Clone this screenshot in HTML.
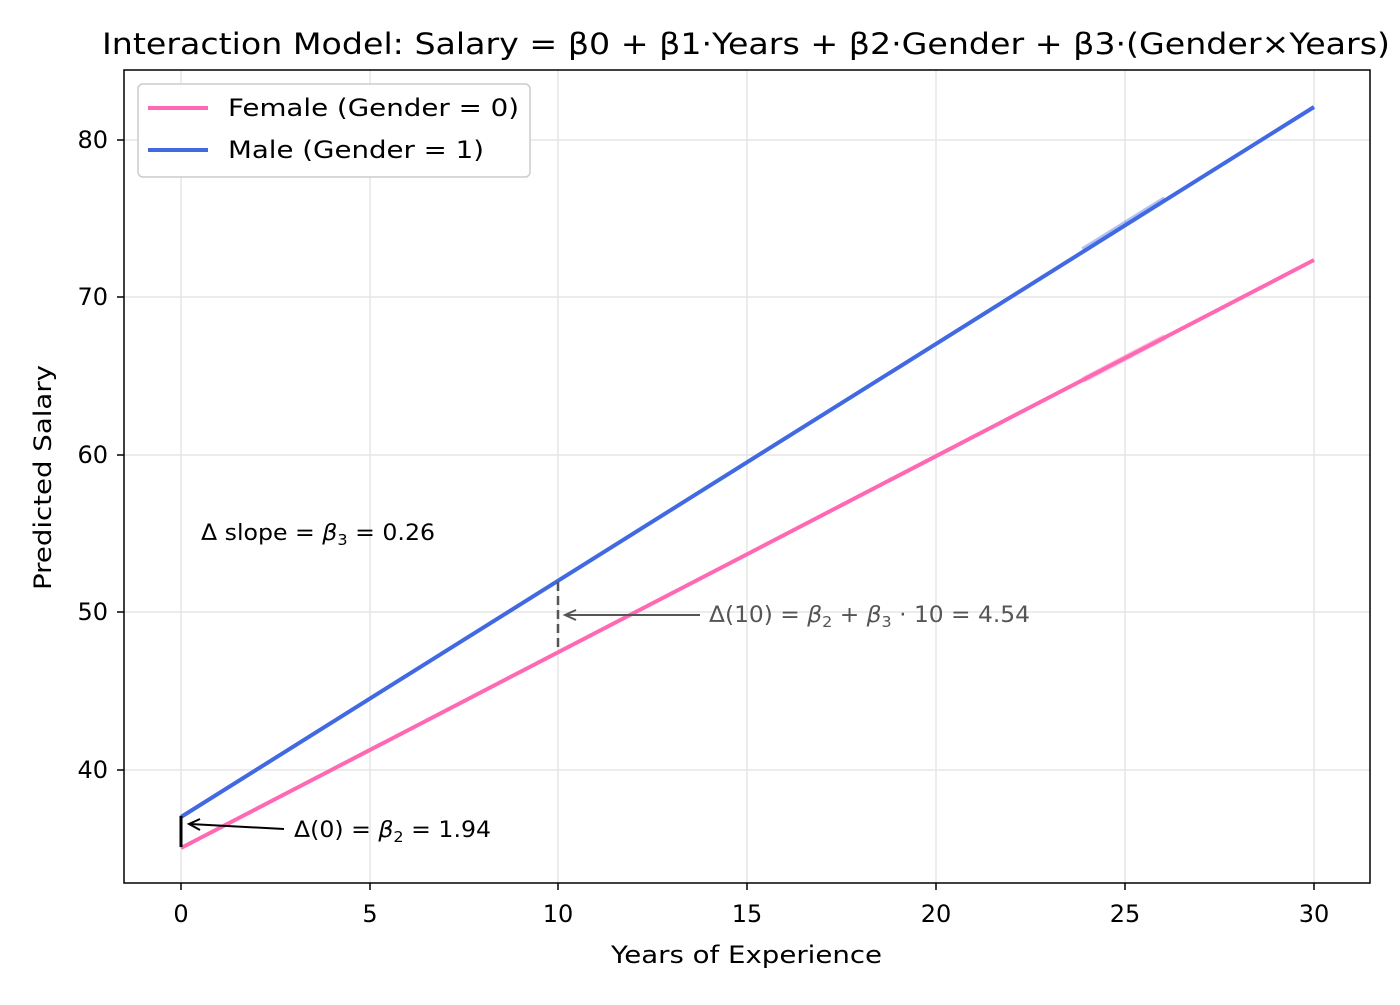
<!DOCTYPE html>
<html><head><style>body{margin:0;background:#fff}</style></head><body>
<svg width="1400" height="1000" xmlns="http://www.w3.org/2000/svg" font-family="DejaVu Sans, Liberation Sans, sans-serif">
<rect width="1400" height="1000" fill="#fff"/>
<g stroke="#e6e6e6" stroke-width="1.5">
<line x1="181" y1="70" x2="181" y2="883"/><line x1="370" y1="70" x2="370" y2="883"/><line x1="558" y1="70" x2="558" y2="883"/><line x1="747" y1="70" x2="747" y2="883"/><line x1="936" y1="70" x2="936" y2="883"/><line x1="1125" y1="70" x2="1125" y2="883"/><line x1="1314" y1="70" x2="1314" y2="883"/>
<line x1="124" y1="140" x2="1370" y2="140"/><line x1="124" y1="297" x2="1370" y2="297"/><line x1="124" y1="455" x2="1370" y2="455"/><line x1="124" y1="612" x2="1370" y2="612"/><line x1="124" y1="770" x2="1370" y2="770"/>
</g>
<line x1="181" y1="848" x2="1314" y2="260" stroke="#ff69b4" stroke-width="4"/>
<line x1="181" y1="817" x2="1314" y2="107" stroke="#4169e1" stroke-width="4"/>
<line x1="1083" y1="380" x2="1165" y2="337" stroke="#ff69b4" stroke-width="6" opacity="0.4"/>
<line x1="1083" y1="250" x2="1165" y2="199" stroke="#4169e1" stroke-width="6" opacity="0.4"/>
<line x1="181" y1="816" x2="181" y2="847" stroke="#000" stroke-width="3"/>
<line x1="284" y1="829" x2="190" y2="824" stroke="#000" stroke-width="2"/>
<path d="M200,819 L189,824 L200,830" fill="none" stroke="#000" stroke-width="2"/>
<text x="294" y="837" font-size="22" textLength="197" lengthAdjust="spacingAndGlyphs">Δ(0) = <tspan font-style="italic">β</tspan><tspan font-size="15" dy="5">2</tspan><tspan dy="-5"> = 1.94</tspan></text>
<line x1="558" y1="582" x2="558" y2="652" stroke="#555" stroke-width="2.5" stroke-dasharray="9,5"/>
<line x1="700" y1="615" x2="566" y2="615" stroke="#555" stroke-width="2"/>
<path d="M576,610 L565,615 L576,620" fill="none" stroke="#555" stroke-width="2"/>
<text x="709" y="622" font-size="22" fill="#555" textLength="321" lengthAdjust="spacingAndGlyphs">Δ(10) = <tspan font-style="italic">β</tspan><tspan font-size="15" dy="5">2</tspan><tspan dy="-5"> + </tspan><tspan font-style="italic">β</tspan><tspan font-size="15" dy="5">3</tspan><tspan dy="-5"> · 10 = 4.54</tspan></text>
<text x="201" y="540" font-size="22" textLength="234" lengthAdjust="spacingAndGlyphs">Δ slope = <tspan font-style="italic">β</tspan><tspan font-size="15" dy="5">3</tspan><tspan dy="-5"> = 0.26</tspan></text>
<rect x="124" y="70" width="1246" height="813" fill="none" stroke="#000" stroke-width="1.5"/>
<g stroke="#000" stroke-width="1.5">
<line x1="181" y1="883" x2="181" y2="890"/><line x1="370" y1="883" x2="370" y2="890"/><line x1="558" y1="883" x2="558" y2="890"/><line x1="747" y1="883" x2="747" y2="890"/><line x1="936" y1="883" x2="936" y2="890"/><line x1="1125" y1="883" x2="1125" y2="890"/><line x1="1314" y1="883" x2="1314" y2="890"/>
<line x1="117" y1="140" x2="124" y2="140"/><line x1="117" y1="297" x2="124" y2="297"/><line x1="117" y1="455" x2="124" y2="455"/><line x1="117" y1="612" x2="124" y2="612"/><line x1="117" y1="770" x2="124" y2="770"/>
</g>
<g font-size="24" text-anchor="middle">
<text x="181" y="922">0</text><text x="370" y="922">5</text><text x="558" y="922">10</text><text x="747" y="922">15</text><text x="936" y="922">20</text><text x="1125" y="922">25</text><text x="1314" y="922">30</text>
</g>
<g font-size="24" text-anchor="end">
<text x="108" y="148">80</text><text x="108" y="305">70</text><text x="108" y="463">60</text><text x="108" y="620">50</text><text x="108" y="778">40</text>
</g>
<text x="611" y="963" font-size="24" textLength="271" lengthAdjust="spacingAndGlyphs">Years of Experience</text>
<text transform="translate(51,590) rotate(-90)" font-size="24" textLength="225" lengthAdjust="spacingAndGlyphs">Predicted Salary</text>
<text x="102" y="54" font-size="29" textLength="1288" lengthAdjust="spacingAndGlyphs">Interaction Model: Salary = β0 + β1·Years + β2·Gender + β3·(Gender×Years)</text>
<rect x="138" y="84" width="392" height="93" rx="5" fill="#fff" stroke="#ccc" stroke-width="1.5"/>
<line x1="148" y1="108" x2="208" y2="108" stroke="#ff69b4" stroke-width="4"/>
<line x1="148" y1="150" x2="208" y2="150" stroke="#4169e1" stroke-width="4"/>
<text x="228" y="116" font-size="24" textLength="291" lengthAdjust="spacingAndGlyphs">Female (Gender = 0)</text>
<text x="228" y="158" font-size="24" textLength="256" lengthAdjust="spacingAndGlyphs">Male (Gender = 1)</text>
</svg>
</body></html>
